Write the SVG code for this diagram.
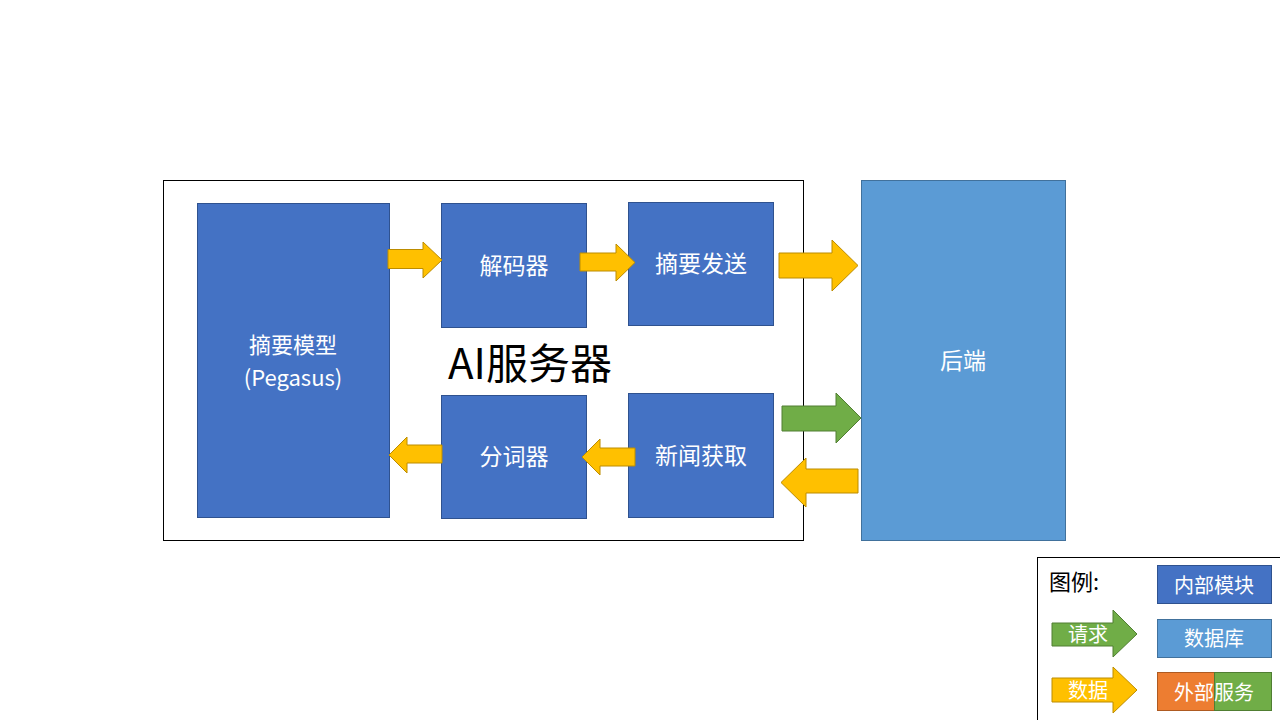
<svg xmlns="http://www.w3.org/2000/svg" width="1280" height="720" viewBox="0 0 1280 720">
<style>
text{font-family:"Noto Sans CJK SC","Liberation Sans",sans-serif;text-anchor:middle;dominant-baseline:central}
.mod{fill:#4472C4;stroke:#2F528F;stroke-width:1}
.db{fill:#5B9BD5;stroke:#41719C;stroke-width:1}
.y{fill:#FFC000;stroke:#BC8C00;stroke-width:1}
.g{fill:#70AD47;stroke:#507E32;stroke-width:1}
.o{fill:#ED7D31;stroke:#AE5A21;stroke-width:1}
.w{fill:#FFFFFF;font-size:23px}
.lw{fill:#FFFFFF;font-size:20px}
</style>
<rect width="1280" height="720" fill="#FFFFFF"/>
<g id="ai-server">
<rect x="163.5" y="180.5" width="640" height="360" fill="#FFFFFF" stroke="#000000" stroke-width="1"/>
<text x="530" y="360" font-size="42" fill="#000000">AI服务器</text>
</g>
<g id="model">
<rect class="mod" x="197.5" y="203.5" width="192" height="314"/>
<text class="w" x="293" y="343" style="font-size:22px">摘要模型</text>
<text class="w" x="293" y="376" style="font-size:22px">(Pegasus)</text>
</g>
<g id="decoder">
<rect class="mod" x="441.5" y="203.5" width="145" height="124"/>
<text class="w" x="514" y="264">解码器</text>
</g>
<g id="send">
<rect class="mod" x="628.5" y="202.5" width="145" height="123"/>
<text class="w" x="701" y="262">摘要发送</text>
</g>
<g id="tokenizer">
<rect class="mod" x="441.5" y="395.5" width="145" height="123"/>
<text class="w" x="514" y="455">分词器</text>
</g>
<g id="fetch">
<rect class="mod" x="628.5" y="393.5" width="145" height="124"/>
<text class="w" x="701" y="454">新闻获取</text>
</g>
<g id="backend">
<rect class="db" x="861.5" y="180.5" width="204" height="360"/>
<text class="w" x="963" y="359">后端</text>
</g>
<g id="connectors">
<path class="y" d="M388,249.5 H423 V242 L442,260 L423,278 V268.5 H388 Z"/>
<path class="y" d="M580,253 H616 V244 L635,262.5 L616,281 V271 H580 Z"/>
<path class="y" d="M779,253 H832 V240 L858,265.5 L832,291 V278 H779 Z"/>
<path class="g" d="M782,406 H836 V393 L861,418 L836,443 V431 H782 Z"/>
<path class="y" d="M858,469 H806 V458 L781,482.5 L806,507 V493 H858 Z"/>
<path class="y" d="M442,445 H407 V437 L389,455 L407,473 V463 H442 Z"/>
<path class="y" d="M635,448 H600 V439 L582,457 L600,475 V466 H635 Z"/>
</g>
<g id="legend">
<rect x="1037.5" y="557.5" width="250" height="170" fill="#FFFFFF" stroke="#000000" stroke-width="1"/>
<text x="1049" y="580" font-size="22" fill="#000000" style="text-anchor:start">图例:</text>
<g id="legend-module">
<rect class="mod" x="1157.5" y="565.5" width="114" height="38"/>
<text class="lw" x="1214" y="584">内部模块</text>
</g>
<g id="legend-db">
<rect class="db" x="1157.5" y="619.5" width="114" height="38"/>
<text class="lw" x="1214" y="637">数据库</text>
</g>
<g id="legend-ext">
<rect class="o" x="1157.5" y="672.5" width="57" height="38"/>
<rect class="g" x="1214.5" y="672.5" width="57" height="38"/>
<text class="lw" x="1214" y="691">外部服务</text>
</g>
<g id="legend-req">
<path class="g" d="M1052,623 H1113 V610 L1137,634 L1113,657 V646 H1052 Z"/>
<text class="lw" x="1088" y="633">请求</text>
</g>
<g id="legend-data">
<path class="y" d="M1052,678 H1113 V667 L1137,690 L1113,713 V702 H1052 Z"/>
<text class="lw" x="1088" y="689">数据</text>
</g>
</g>
</svg>
